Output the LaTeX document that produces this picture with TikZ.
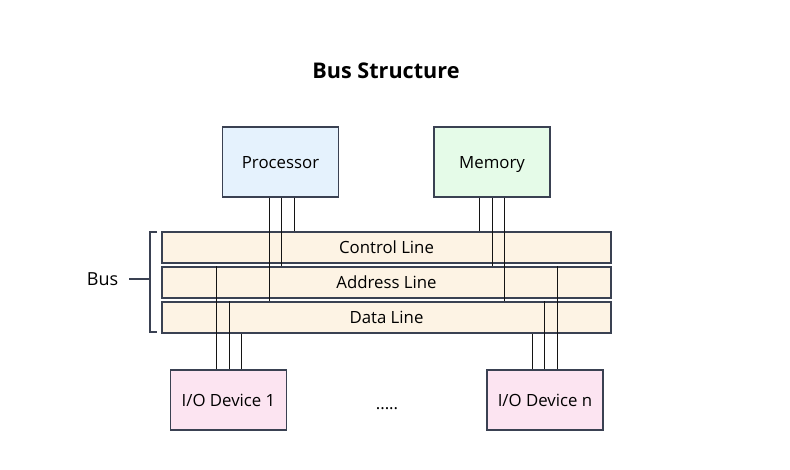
\documentclass[tikz,border=0pt]{standalone}
\usepackage{fontspec}
\setmainfont{Open Sans}
\usetikzlibrary{positioning, calc}
\definecolor{edgegray}{HTML}{3A4152}
\definecolor{wireblack}{HTML}{141414}
\definecolor{procblue}{HTML}{E5F2FD}
\definecolor{memgreen}{HTML}{E5FBE8}
\definecolor{busbeige}{HTML}{FDF3E4}
\definecolor{iopink}{HTML}{FCE4F1}

\begin{document}
\begin{tikzpicture}[
  x=0.75pt, y=-0.75pt,
  txt/.style={font=\fontsize{12.6}{14}\selectfont, text height=10.6pt, text depth=1.4pt},
  unit/.style={draw=edgegray, line width=1.1pt, minimum width=87pt, minimum height=52.5pt, txt, inner sep=0pt},
  iobox/.style={unit, fill=iopink, minimum height=45pt},
  busline/.style={draw=edgegray, line width=1.2pt, fill=busbeige, minimum width=336.75pt, minimum height=23.25pt, txt, inner sep=0pt},
  wire/.style={draw=wireblack, line width=1.2pt},
  brace/.style={draw=edgegray, line width=1pt}
]
  \useasboundingbox (0,0) rectangle (790,469);

  \node[font=\bfseries\fontsize{16.2}{19}\selectfont] (title) at (386,71) {Bus Structure};

  \node[unit, fill=procblue] (proc) at (280.5,162) {Processor};
  \node[unit, fill=memgreen] (mem) at (492,162) {Memory};

  \node[busline] (ctrl) at (386.5,247.5) {Control Line};
  \node[busline] (addr) at (386.5,282.5) {Address Line};
  \node[busline] (data) at (386.5,317.5) {Data Line};

  \node[iobox] (io1) at (228.5,400) {I/O Device 1};
  \node[iobox] (ion) at (545,400) {I/O Device n};
  \node[txt] (dots) at (387,403) {.....};

  % processor taps
  \draw[wire] (proc.south -| 294.5,0) -- (ctrl.north -| 294.5,0);
  \draw[wire] (proc.south -| 281.5,0) -- (addr.north -| 281.5,0);
  \draw[wire] (proc.south -| 269.5,0) -- (data.north -| 269.5,0);

  % memory taps
  \draw[wire] (mem.south -| 479.5,0) -- (ctrl.north -| 479.5,0);
  \draw[wire] (mem.south -| 492.5,0) -- (addr.north -| 492.5,0);
  \draw[wire] (mem.south -| 504.5,0) -- (data.north -| 504.5,0);

  % device taps
  \draw[wire] (addr.north -| 216.5,0) -- (io1.north -| 216.5,0);
  \draw[wire] (data.north -| 229.5,0) -- (io1.north -| 229.5,0);
  \draw[wire] (data.south -| 241.5,0) -- (io1.north -| 241.5,0);
  \draw[wire] (addr.north -| 557.5,0) -- (ion.north -| 557.5,0);
  \draw[wire] (data.north -| 544.5,0) -- (ion.north -| 544.5,0);
  \draw[wire] (data.south -| 532.5,0) -- (ion.north -| 532.5,0);

  % bus bracket
  \coordinate (brtop) at (157,232);
  \coordinate (brbot) at (157,332);
  \draw[brace] (brtop) -- ++(-7,0) |- (brbot);
  \node[txt, font=\fontsize{13.5}{15}\selectfont, anchor=east] (buslabel) at (123,279) {Bus};
  \draw[brace] (buslabel.east) ++(6,0) coordinate (bustick) -- (bustick -| 150,0);
\end{tikzpicture}
\end{document}
